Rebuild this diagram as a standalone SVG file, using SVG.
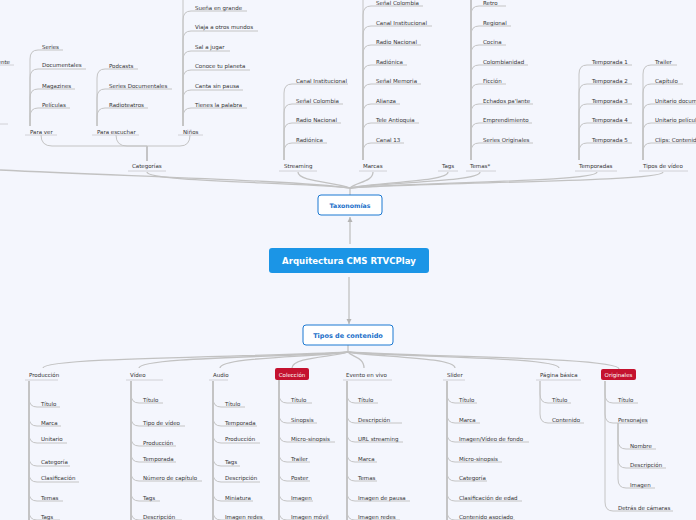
<svg xmlns="http://www.w3.org/2000/svg" width="696" height="520" viewBox="0 0 696 520">
<defs>
<style>
.t{font-family:"DejaVu Sans",Verdana,sans-serif;font-size:5.5px;fill:#333333}
.w{font-family:"DejaVu Sans",Verdana,sans-serif;font-size:5.5px;fill:#ffffff}
.c{fill:none;stroke:#c4c4c4;stroke-width:1}
.h{fill:none;stroke:#c2c2c2;stroke-width:1.3}
.u{fill:none;stroke:#cdcdd1;stroke-width:0.9}
.tk{fill:none;stroke:#b8b8b8;stroke-width:1.6}
.bt{font-family:"DejaVu Sans",Verdana,sans-serif;font-weight:bold;fill:#1a6fc9}
</style>
<marker id="ar" markerWidth="6" markerHeight="6" refX="5" refY="3" orient="auto" markerUnits="userSpaceOnUse">
<path d="M0,0.5 L5,3 L0,5.5 Z" fill="#b4b4b4"/>
</marker>
</defs>
<rect width="696" height="520" fill="#f4f6fd"/>

<g id="connectors">
<path d="M350,244 V217" class="h" marker-end="url(#ar)"/>
<path d="M349,277 V324" class="h" marker-end="url(#ar)"/>
<path d="M350,195 V188" class="h"/>
<path d="M0,170 C150,177 300,181 350,188" class="h"/>
<path d="M147,172 C147,182 299,182 350,188" class="h"/>
<path d="M298,172 C298,182 337,182 350,188" class="h"/>
<path d="M373,172 C373,182 356,182 350,188" class="h"/>
<path d="M448,172 C448,182 375,182 350,188" class="h"/>
<path d="M480,172 C480,182 383,182 350,188" class="h"/>
<path d="M597,172 C597,182 412,182 350,188" class="h"/>
<path d="M663,172 C663,182 428,182 350,188" class="h"/>
<path d="M147,146 V161" class="tk"/>
<path d="M41,135 Q41,146 52,146 H147" class="c"/>
<path d="M116,135 Q116,146 127,146 H147" class="c"/>
<path d="M190,135 Q190,146 180,146 H147" class="c"/>
<path d="M348,345 V352" class="h"/>
<path d="M348,352 C272,357 43,357 43,368" class="h"/>
<path d="M348,352 C296,357 139,357 139,368" class="h"/>
<path d="M348,352 C316,357 220,357 220,368" class="h"/>
<path d="M348,352 C334,357 292,357 292,368" class="h"/>
<path d="M348,352 C352,357 364,357 364,368" class="h"/>
<path d="M348,352 C375,357 455,357 455,368" class="h"/>
<path d="M348,352 C400,357 559,357 559,368" class="h"/>
<path d="M348,352 C416,357 619,357 619,369" class="h"/>
</g>

<g id="main">
<rect x="269" y="248" width="160" height="25" rx="3" fill="#1b95e6"/>
<text x="349" y="264" text-anchor="middle" font-family="DejaVu Sans,Verdana,sans-serif" font-weight="bold" font-size="8.6" fill="#ffffff">Arquitectura CMS RTVCPlay</text>
</g>
<g id="taxonomias">
<rect x="318" y="195" width="64" height="20" rx="3" fill="#ffffff" stroke="#1a78d2" stroke-width="1"/>
<text x="350" y="207.6" text-anchor="middle" class="bt" font-size="6.2">Taxonomías</text>
</g>
<g id="tipos-contenido">
<rect x="303" y="325" width="90" height="20" rx="3" fill="#ffffff" stroke="#1a78d2" stroke-width="1"/>
<text x="348" y="337.6" text-anchor="middle" class="bt" font-size="6.5">Tipos de contenido</text>
</g>

<g id="offscreen-left">
<text x="10" y="64" text-anchor="end" class="t">ente</text>
<path d="M-20,65 H14" class="u"/>
<path d="M-20,124 H8" class="u"/>
</g>

<g id="categorias">
<text x="132" y="168" class="t">Categorías</text>
<path d="M128,171 H166" class="u"/>
</g>
<g id="para-ver">
<text x="30" y="134" class="t">Para ver</text>
<path d="M25,135 H57" class="u"/>
<path d="M30,126 V59 Q30,50 38,50 H63" class="c"/>
<path d="M30,126 V78 Q30,69 38,69 H86" class="c"/>
<path d="M30,126 V98 Q30,89 38,89 H75" class="c"/>
<path d="M30,126 V117 Q30,108 38,108 H70" class="c"/>
<text x="42" y="49" class="t">Series</text>
<text x="42" y="67" class="t">Documentales</text>
<text x="42" y="88" class="t">Magazines</text>
<text x="42" y="107" class="t">Películas</text>
</g>
<g id="para-escuchar">
<text x="97" y="134" class="t">Para escuchar</text>
<path d="M92,135 H139" class="u"/>
<path d="M97,126 V78 Q97,69 105,69 H138" class="c"/>
<path d="M97,126 V98 Q97,89 105,89 H172" class="c"/>
<path d="M97,126 V117 Q97,108 105,108 H148" class="c"/>
<text x="109" y="68" class="t">Podcasts</text>
<text x="109" y="88" class="t">Series Documentales</text>
<text x="109" y="107" class="t">Radioteatros</text>
</g>
<g id="ninos">
<text x="183" y="134" class="t">Niños</text>
<path d="M178,135 H203" class="u"/>
<path d="M183,126 V-10" class="c"/>
<path d="M183,126 V20 Q183,11 191,11 H247" class="c"/>
<path d="M183,126 V40 Q183,31 191,31 H258" class="c"/>
<path d="M183,126 V60 Q183,51 191,51 H230" class="c"/>
<path d="M183,126 V79 Q183,70 191,70 H250" class="c"/>
<path d="M183,126 V99 Q183,90 191,90 H243" class="c"/>
<path d="M183,126 V117 Q183,108 191,108 H247" class="c"/>
<text x="195" y="10" class="t">Sueña en grande</text>
<text x="195" y="29" class="t">Viaja a otros mundos</text>
<text x="195" y="49" class="t">Sal a jugar</text>
<text x="195" y="68" class="t">Conoce tu planeta</text>
<text x="195" y="88" class="t">Canta sin pausa</text>
<text x="195" y="107" class="t">Tienes la palabra</text>
</g>
<g id="streaming">
<text x="284" y="168" class="t">Streaming</text>
<path d="M279,171 H317" class="u"/>
<path d="M284,160 V93 Q284,84 292,84 H348" class="c"/>
<path d="M284,160 V113 Q284,104 292,104 H343" class="c"/>
<path d="M284,160 V132 Q284,123 292,123 H341" class="c"/>
<path d="M284,160 V152 Q284,143 292,143 H327" class="c"/>
<text x="296" y="83" class="t">Canal Institucional</text>
<text x="296" y="103" class="t">Señal Colombia</text>
<text x="296" y="122" class="t">Radio Nacional</text>
<text x="296" y="142" class="t">Radiónica</text>
</g>
<g id="marcas">
<text x="363" y="168" class="t">Marcas</text>
<path d="M359,171 H387" class="u"/>
<path d="M363,160 V-10" class="c"/>
<path d="M363,160 V15 Q363,6 371,6 H423" class="c"/>
<path d="M363,160 V35 Q363,26 371,26 H432" class="c"/>
<path d="M363,160 V54 Q363,45 371,45 H421" class="c"/>
<path d="M363,160 V74 Q363,65 371,65 H407" class="c"/>
<path d="M363,160 V93 Q363,84 371,84 H421" class="c"/>
<path d="M363,160 V113 Q363,104 371,104 H400" class="c"/>
<path d="M363,160 V132 Q363,123 371,123 H419" class="c"/>
<path d="M363,160 V152 Q363,143 371,143 H404" class="c"/>
<text x="376" y="5" class="t">Señal Colombia</text>
<text x="376" y="25" class="t">Canal Institucional</text>
<text x="376" y="44" class="t">Radio Nacional</text>
<text x="376" y="64" class="t">Radiónica</text>
<text x="376" y="83" class="t">Señal Memoria</text>
<text x="376" y="103" class="t">Alianza</text>
<text x="376" y="122" class="t">Tele Antioquia</text>
<text x="376" y="142" class="t">Canal 13</text>
</g>
<g id="tags">
<text x="442" y="168" class="t">Tags</text>
<path d="M438,171 H458" class="u"/>
</g>
<g id="temas">
<text x="470" y="168" class="t">Temas*</text>
<path d="M466,171 H496" class="u"/>
<path d="M471,160 V-10" class="tk"/>
<path d="M471,160 V15 Q471,6 479,6 H506" class="c"/>
<path d="M471,160 V35 Q471,26 479,26 H511" class="c"/>
<path d="M471,160 V54 Q471,45 479,45 H506" class="c"/>
<path d="M471,160 V74 Q471,65 479,65 H528" class="c"/>
<path d="M471,160 V93 Q471,84 479,84 H506" class="c"/>
<path d="M471,160 V113 Q471,104 479,104 H533" class="c"/>
<path d="M471,160 V132 Q471,123 479,123 H532" class="c"/>
<path d="M471,160 V152 Q471,143 479,143 H533" class="c"/>
<text x="483" y="5" class="t">Retro</text>
<text x="483" y="25" class="t">Regional</text>
<text x="483" y="44" class="t">Cocina</text>
<text x="483" y="64" class="t">Colombianidad</text>
<text x="483" y="83" class="t">Ficción</text>
<text x="483" y="103" class="t">Echados pa'lante</text>
<text x="483" y="122" class="t">Emprendimiento</text>
<text x="483" y="142" class="t">Series Originales</text>
</g>
<g id="temporadas">
<text x="579" y="168" class="t">Temporadas</text>
<path d="M575,171 H617" class="u"/>
<path d="M579,160 V74 Q579,65 587,65 H632" class="c"/>
<path d="M579,160 V93 Q579,84 587,84 H632" class="c"/>
<path d="M579,160 V113 Q579,104 587,104 H632" class="c"/>
<path d="M579,160 V132 Q579,123 587,123 H632" class="c"/>
<path d="M579,160 V152 Q579,143 587,143 H632" class="c"/>
<text x="592" y="64" class="t">Temporada 1</text>
<text x="592" y="83" class="t">Temporada 2</text>
<text x="592" y="103" class="t">Temporada 3</text>
<text x="592" y="122" class="t">Temporada 4</text>
<text x="592" y="142" class="t">Temporada 5</text>
</g>
<g id="tipos-video">
<text x="643" y="168" class="t">Tipos de vídeo</text>
<path d="M639,171 H688" class="u"/>
<path d="M643,160 V74 Q643,65 651,65 H677" class="c"/>
<path d="M643,160 V93 Q643,84 651,84 H683" class="c"/>
<path d="M643,160 V113 Q643,104 651,104 H700" class="c"/>
<path d="M643,160 V132 Q643,123 651,123 H700" class="c"/>
<path d="M643,160 V152 Q643,143 651,143 H700" class="c"/>
<text x="655" y="64" class="t">Trailer</text>
<text x="655" y="83" class="t">Capítulo</text>
<text x="655" y="103" class="t">Unitario documental</text>
<text x="655" y="122" class="t">Unitario película</text>
<text x="655" y="142" class="t">Clips: Contenido adicional</text>
</g>

<g id="produccion">
<text x="29" y="377" class="t">Producción</text>
<path d="M25,380 H58" class="u"/>
<path d="M29,381 V530" class="tk"/>
<path d="M29,381 V398 Q29,407 37,407 H60" class="c"/>
<path d="M29,381 V417 Q29,426 37,426 H61" class="c"/>
<path d="M29,381 V434 Q29,443 37,443 H67" class="c"/>
<path d="M29,381 V457 Q29,466 37,466 H70" class="c"/>
<path d="M29,381 V473 Q29,482 37,482 H79" class="c"/>
<path d="M29,381 V492 Q29,501 37,501 H63" class="c"/>
<path d="M29,381 V511 Q29,520 37,520 H60" class="c"/>
<text x="41" y="406" class="t">Título</text>
<text x="41" y="425" class="t">Marca</text>
<text x="41" y="441" class="t">Unitario</text>
<text x="41" y="464" class="t">Categoría</text>
<text x="41" y="480" class="t">Clasificación</text>
<text x="41" y="500" class="t">Temas</text>
<text x="41" y="519" class="t">Tags</text>
</g>
<g id="video">
<text x="130" y="377" class="t">Vídeo</text>
<path d="M126,380 H163" class="u"/>
<path d="M131,381 V530" class="tk"/>
<path d="M131,381 V394 Q131,403 139,403 H163" class="c"/>
<path d="M131,381 V417 Q131,426 139,426 H185" class="c"/>
<path d="M131,381 V437 Q131,446 139,446 H176" class="c"/>
<path d="M131,381 V453 Q131,462 139,462 H176" class="c"/>
<path d="M131,381 V472 Q131,481 139,481 H202" class="c"/>
<path d="M131,381 V492 Q131,501 139,501 H160" class="c"/>
<path d="M131,381 V511 Q131,520 139,520 H182" class="c"/>
<text x="143" y="402" class="t">Título</text>
<text x="143" y="425" class="t">Tipo de vídeo</text>
<text x="143" y="445" class="t">Producción</text>
<text x="143" y="461" class="t">Temporada</text>
<text x="143" y="480" class="t">Número de capítulo</text>
<text x="143" y="500" class="t">Tags</text>
<text x="143" y="519" class="t">Descripción</text>
</g>
<g id="audio">
<text x="213" y="377" class="t">Audio</text>
<path d="M209,380 H228" class="u"/>
<path d="M213,381 V530" class="tk"/>
<path d="M213,381 V398 Q213,407 221,407 H245" class="c"/>
<path d="M213,381 V417 Q213,426 221,426 H257" class="c"/>
<path d="M213,381 V434 Q213,443 221,443 H260" class="c"/>
<path d="M213,381 V457 Q213,466 221,466 H240" class="c"/>
<path d="M213,381 V473 Q213,482 221,482 H260" class="c"/>
<path d="M213,381 V492 Q213,501 221,501 H253" class="c"/>
<path d="M213,381 V511 Q213,520 221,520 H265" class="c"/>
<text x="225" y="406" class="t">Título</text>
<text x="225" y="425" class="t">Temporada</text>
<text x="225" y="441" class="t">Producción</text>
<text x="225" y="464" class="t">Tags</text>
<text x="225" y="480" class="t">Descripción</text>
<text x="225" y="500" class="t">Miniatura</text>
<text x="225" y="519" class="t">Imagen redes</text>
</g>
<g id="coleccion">
<rect x="275" y="368" width="34" height="12" rx="2" fill="#c4122f"/>
<text x="292" y="376.5" text-anchor="middle" class="w">Colección</text>
<path d="M279,380 V530" class="tk"/>
<path d="M279,380 V394 Q279,403 287,403 H312" class="c"/>
<path d="M279,380 V414 Q279,423 287,423 H317" class="c"/>
<path d="M279,380 V433 Q279,442 287,442 H335" class="c"/>
<path d="M279,380 V453 Q279,462 287,462 H310" class="c"/>
<path d="M279,380 V472 Q279,481 287,481 H310" class="c"/>
<path d="M279,380 V492 Q279,501 287,501 H313" class="c"/>
<path d="M279,380 V511 Q279,520 287,520 H330" class="c"/>
<text x="291" y="402" class="t">Título</text>
<text x="291" y="422" class="t">Sinopsis</text>
<text x="291" y="441" class="t">Micro-sinopsis</text>
<text x="291" y="461" class="t">Trailer</text>
<text x="291" y="480" class="t">Poster</text>
<text x="291" y="500" class="t">Imagen</text>
<text x="291" y="519" class="t">Imagen móvil</text>
</g>
<g id="evento-en-vivo">
<text x="346" y="377" class="t">Evento en vivo</text>
<path d="M343,380 H392" class="u"/>
<path d="M347,381 V530" class="tk"/>
<path d="M347,381 V394 Q347,403 355,403 H378" class="c"/>
<path d="M347,381 V414 Q347,423 355,423 H402" class="c"/>
<path d="M347,381 V433 Q347,442 355,442 H403" class="c"/>
<path d="M347,381 V453 Q347,462 355,462 H377" class="c"/>
<path d="M347,381 V472 Q347,481 355,481 H377" class="c"/>
<path d="M347,381 V492 Q347,501 355,501 H410" class="c"/>
<path d="M347,381 V511 Q347,520 355,520 H400" class="c"/>
<text x="358" y="402" class="t">Título</text>
<text x="358" y="422" class="t">Descripción</text>
<text x="358" y="441" class="t">URL streaming</text>
<text x="358" y="461" class="t">Marca</text>
<text x="358" y="480" class="t">Temas</text>
<text x="358" y="500" class="t">Imagen de pausa</text>
<text x="358" y="519" class="t">Imagen redes</text>
</g>
<g id="slider">
<text x="447" y="377" class="t">Slider</text>
<path d="M443,380 H465" class="u"/>
<path d="M447,381 V530" class="tk"/>
<path d="M447,381 V394 Q447,403 455,403 H477" class="c"/>
<path d="M447,381 V414 Q447,423 455,423 H480" class="c"/>
<path d="M447,381 V433 Q447,442 455,442 H529" class="c"/>
<path d="M447,381 V453 Q447,462 455,462 H502" class="c"/>
<path d="M447,381 V472 Q447,481 455,481 H487" class="c"/>
<path d="M447,381 V492 Q447,501 455,501 H522" class="c"/>
<path d="M447,381 V511 Q447,520 455,520 H515" class="c"/>
<text x="459" y="402" class="t">Título</text>
<text x="459" y="422" class="t">Marca</text>
<text x="459" y="441" class="t">Imagen/Vídeo de fondo</text>
<text x="459" y="461" class="t">Micro-sinopsis</text>
<text x="459" y="480" class="t">Categoría</text>
<text x="459" y="500" class="t">Clasificación de edad</text>
<text x="459" y="519" class="t">Contenido asociado</text>
</g>
<g id="pagina-basica">
<text x="540" y="377" class="t">Página básica</text>
<path d="M536,380 H581" class="u"/>
<path d="M540,381 V394 Q540,403 548,403 H571" class="c"/>
<path d="M540,381 V414 Q540,423 548,423 H584" class="c"/>
<text x="552" y="402" class="t">Título</text>
<text x="552" y="422" class="t">Contenido</text>
</g>
<g id="originales">
<rect x="601" y="369" width="35" height="11" rx="2" fill="#c4122f"/>
<text x="618.5" y="377" text-anchor="middle" class="w">Originales</text>
<path d="M605,381 V394 Q605,403 613,403 H638" class="c"/>
<path d="M605,381 V414 Q605,423 613,423 H648" class="c"/>
<path d="M605,381 V502 Q605,511 613,511 H673" class="c"/>
<path d="M618,423 V440 Q618,449 626,449 H656" class="c"/>
<path d="M618,423 V459 Q618,468 626,468 H666" class="c"/>
<path d="M618,423 V479 Q618,488 626,488 H655" class="c"/>
<text x="618" y="402" class="t">Título</text>
<text x="618" y="422" class="t">Personajes</text>
<text x="630" y="448" class="t">Nombre</text>
<text x="630" y="467" class="t">Descripción</text>
<text x="630" y="487" class="t">Imagen</text>
<text x="618" y="510" class="t">Detrás de cámaras</text>
</g>
</svg>
